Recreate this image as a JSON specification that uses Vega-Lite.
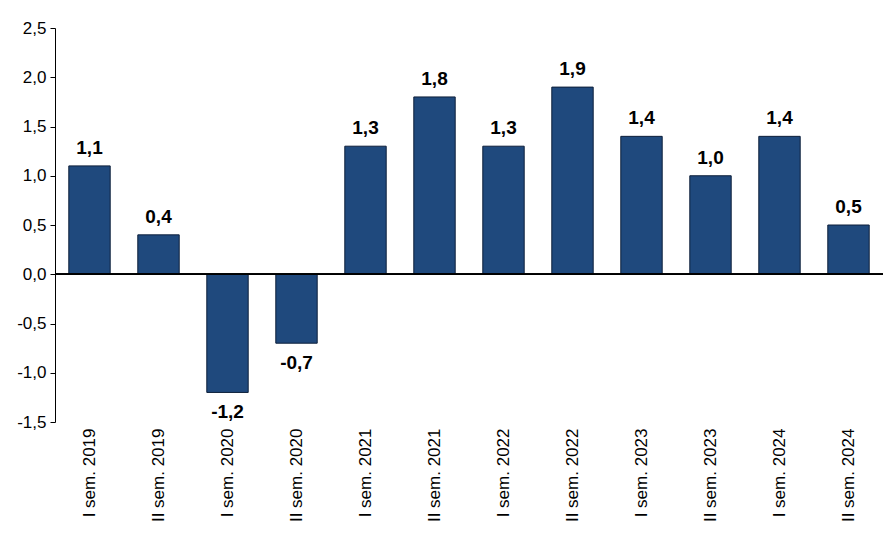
{
  "$schema": "https://vega.github.io/schema/vega-lite/v6.json",
  "width": 828,
  "height": 394,
  "autosize": "none",
  "padding": {"left": 55, "top": 28, "right": 0, "bottom": 136},
  "config": {
    "locale": {"number": {"decimal": ",", "thousands": ".", "grouping": [3], "currency": ["", " €"], "minus": "-"}},
    "view": {"stroke": null},
    "font": "Liberation Sans Narrow, Arial Narrow, Liberation Sans, sans-serif"
  },
  "data": {
    "values": [
      {"period": "I sem. 2019", "value": 1.1},
      {"period": "II sem. 2019", "value": 0.4},
      {"period": "I sem. 2020", "value": -1.2},
      {"period": "II sem. 2020", "value": -0.7},
      {"period": "I sem. 2021", "value": 1.3},
      {"period": "II sem. 2021", "value": 1.8},
      {"period": "I sem. 2022", "value": 1.3},
      {"period": "II sem. 2022", "value": 1.9},
      {"period": "I sem. 2023", "value": 1.4},
      {"period": "II sem. 2023", "value": 1.0},
      {"period": "I sem. 2024", "value": 1.4},
      {"period": "II sem. 2024", "value": 0.5}
    ]
  },
  "encoding": {
    "x": {
      "field": "period", "type": "nominal", "sort": null, "title": null,
      "scale": {"paddingInner": 0.4, "paddingOuter": 0.2},
      "axis": {"labelAngle": -90, "labelFontSize": 17, "labelColor": "#000", "domain": false, "ticks": false, "labelPadding": 6, "labelBaseline": "middle"}
    },
    "y": {
      "field": "value", "type": "quantitative", "title": null,
      "scale": {"domain": [-1.5, 2.5], "nice": false},
      "axis": {"values": [-1.5, -1, -0.5, 0, 0.5, 1, 1.5, 2, 2.5], "format": ".1f", "grid": false, "labelFontSize": 17, "labelColor": "#000", "domainColor": "#000", "tickColor": "#000", "tickSize": 5, "labelPadding": 4}
    }
  },
  "layer": [
    {
      "mark": {"type": "bar", "color": "#1F497D", "stroke": "#0d1f3a", "strokeWidth": 1}
    },
    {
      "mark": {"type": "rule", "color": "#000", "strokeWidth": 1},
      "encoding": {"y": {"datum": 0}, "x": {"value": 0}, "x2": {"value": 828}}
    },
    {
      "transform": [{"filter": "datum.value >= 0"}],
      "mark": {"type": "text", "fontSize": 19, "fontWeight": "bold", "color": "#000", "dy": -18},
      "encoding": {"text": {"field": "value", "type": "quantitative", "format": ".1f"}}
    },
    {
      "transform": [{"filter": "datum.value < 0"}],
      "mark": {"type": "text", "fontSize": 19, "fontWeight": "bold", "color": "#000", "dy": 20},
      "encoding": {"text": {"field": "value", "type": "quantitative", "format": ".1f"}}
    }
  ]
}
